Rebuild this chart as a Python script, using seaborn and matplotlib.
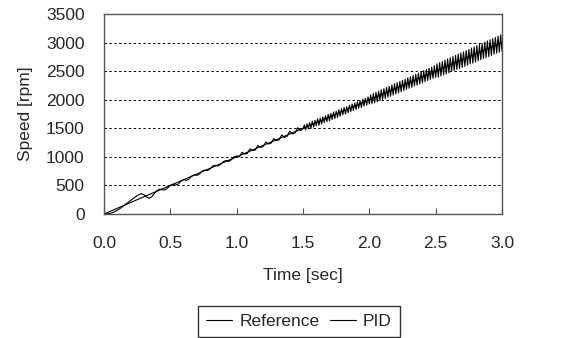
import numpy as np
import pandas as pd
import matplotlib
matplotlib.use("Agg")
import matplotlib.pyplot as plt
import seaborn as sns

# ---- data ----
ref_time = [0.0, 0.5, 1.0, 1.5, 2.0, 2.5, 3.0]
ref_speed = [0, 500, 1000, 1500, 2000, 2500, 3000]

pid_time_a = np.round(np.arange(0.0, 1.0001, 0.02), 2)
pid_speed_a = [0, 2, 8, 20, 40, 65, 95, 130, 165, 200,
               235, 270, 305, 335, 355, 340, 300, 275, 300, 360,
               410, 435, 425, 420, 455, 500, 520, 505, 525, 575,
               600, 590, 610, 660, 685, 675, 700, 750, 770, 760,
               790, 840, 850, 840, 870, 920, 935, 920, 950, 1000,
               1015]
pid_time_b = np.round(np.arange(1.02, 1.5001, 0.02), 2)
pid_speed_b = [1000, 1080, 1050, 1060, 1140, 1110, 1120, 1200, 1165, 1180,
               1260, 1225, 1240, 1320, 1285, 1300, 1385, 1340, 1360, 1450,
               1400, 1420, 1510, 1455, 1490]
pid_time_c = np.round(np.arange(1.51, 3.0001, 0.01), 2)
pid_speed_c = [1560, 1470, 1580, 1490, 1600, 1500, 1625, 1520, 1640, 1545,
               1665, 1550, 1680, 1575, 1700, 1600, 1720, 1615, 1745, 1630,
               1760, 1655, 1785, 1670, 1800, 1690, 1825, 1710, 1845, 1735,
               1865, 1750, 1880, 1770, 1905, 1790, 1925, 1810, 1945, 1830,
               1965, 1850, 1985, 1865, 2010, 1890, 2025, 1905, 2050, 1925,
               2085, 1930, 2110, 1945, 2130, 1965, 2150, 1985, 2175, 2005,
               2195, 2020, 2215, 2045, 2235, 2060, 2260, 2080, 2280, 2100,
               2300, 2120, 2320, 2140, 2340, 2160, 2360, 2180, 2385, 2200,
               2405, 2215, 2425, 2240, 2445, 2255, 2465, 2275, 2490, 2295,
               2510, 2315, 2530, 2335, 2550, 2355, 2570, 2375, 2595, 2390,
               2630, 2395, 2650, 2415, 2670, 2435, 2695, 2450, 2715, 2470,
               2735, 2490, 2755, 2510, 2775, 2530, 2800, 2545, 2820, 2565,
               2840, 2585, 2860, 2605, 2880, 2625, 2905, 2640, 2925, 2660,
               2945, 2680, 2965, 2700, 2985, 2720, 3010, 2735, 3030, 2755,
               3050, 2775, 3070, 2795, 3090, 2815, 3115, 2830, 3135, 2850]

x_ticks = [0.0, 0.5, 1.0, 1.5, 2.0, 2.5, 3.0]
y_ticks = [0, 500, 1000, 1500, 2000, 2500, 3000, 3500]

pid_time = np.concatenate([pid_time_a, pid_time_b, pid_time_c])
pid_speed = pid_speed_a + pid_speed_b + pid_speed_c

df = pd.concat([
    pd.DataFrame({"Time": ref_time, "Speed": ref_speed, "Series": "Reference"}),
    pd.DataFrame({"Time": pid_time, "Speed": pid_speed, "Series": "PID"}),
], ignore_index=True)

# ---- plot ----
sns.set_theme(style="white")
plt.rcParams["font.family"] = ["Liberation Sans", "DejaVu Sans"]

fig = plt.figure(figsize=(5.68, 3.38), dpi=100)
ax = fig.add_axes([104 / 568, 1 - 214 / 338, 398 / 568, 200 / 338])

sns.lineplot(data=df, x="Time", y="Speed", hue="Series", sort=False,
             palette={"Reference": "black", "PID": "black"},
             linewidth=0.8, ax=ax, legend=True, estimator=None)

ax.set_xlim(0, 3.0)
ax.set_ylim(0, 3500)
ax.set_xticks(x_ticks)
ax.set_xticklabels([f"{v:.1f}" for v in x_ticks])
ax.set_yticks(y_ticks)
ax.set_yticklabels([str(v) for v in y_ticks])

for v in y_ticks[1:-1]:
    ax.axhline(v, color="black", linestyle=(0, (2.5, 2.5)), linewidth=0.7, zorder=0)

for s in ax.spines.values():
    s.set_color("#555555")
    s.set_linewidth(1.0)

ax.tick_params(axis="x", direction="in", length=4, width=0.8, color="#555555",
               pad=16, labelsize=12.5)
ax.tick_params(axis="y", length=0, pad=14, labelsize=12.5)
ax.tick_params(axis="x", bottom=True)

ax.set_xlabel("Time [sec]", fontsize=12.5, labelpad=12)
ax.set_ylabel("Speed [rpm]", fontsize=12.5, labelpad=9)

handles, labels = ax.get_legend_handles_labels()
order = [labels.index("Reference"), labels.index("PID")]
leg = ax.legend([handles[i] for i in order], [labels[i] for i in order],
                loc="upper center", bbox_to_anchor=(0.5 - 4 / 398, -92 / 200),
                ncol=2, frameon=True, fancybox=False, fontsize=12.5,
                handlelength=1.5, handletextpad=0.4, columnspacing=0.6,
                borderpad=0.45, borderaxespad=0)
leg.get_frame().set_edgecolor("black")
leg.get_frame().set_linewidth(1.0)

fig.savefig("out.png", dpi=100)
